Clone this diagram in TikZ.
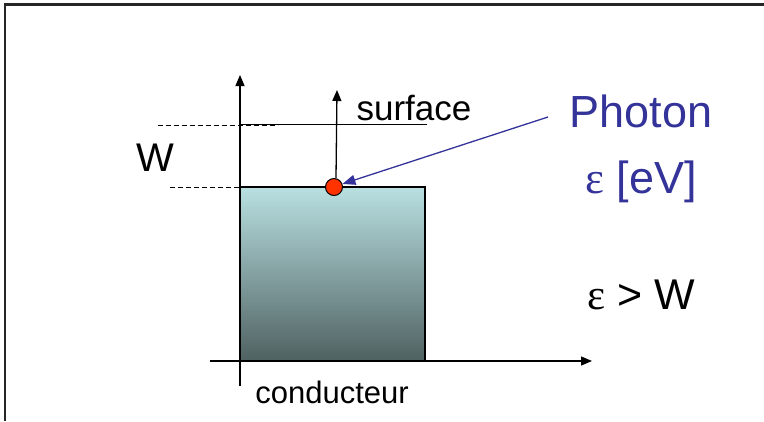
\documentclass[tikz,border=0pt]{standalone}
\usepackage{fontspec}
\setmainfont{Liberation Sans}
\newfontfamily\serifeps{Liberation Serif}
\usetikzlibrary{arrows.meta}
\definecolor{topc}{HTML}{B9E0E1}
\definecolor{botc}{HTML}{4F6161}
\definecolor{photonc}{HTML}{333399}
\definecolor{dotc}{HTML}{FF3300}
\tikzset{
  axis/.style={line width=1.3pt,-{Triangle[length=11pt,width=9pt]}},
  dline/.style={line width=1pt,dash pattern=on 5pt off 3pt},
  lbl/.style={inner sep=0pt,anchor=base},
}
\begin{document}
\begin{tikzpicture}[x=1pt,y=-1pt]
\useasboundingbox (0,0) rectangle (764,421);
\fill[white] (0,0) rectangle (764,421);
% frame (top and left only)
\draw[line width=2.2pt,black!85] (5,421) -- (5,4.5) -- (764,4.5);
% conductor block
\shade[top color=topc,bottom color=botc] (240,187) rectangle (425,361);
\draw[line width=1.2pt] (240,361) -- (240,187) -- (425,187) -- (425,361);
% axes
\coordinate (xs) at (210,361);
\coordinate (xe) at (592,361);
\coordinate (ys) at (240,386);
\coordinate (ye) at (240,75);
\draw[axis] (xs) -- (xe);
\draw[axis] (ys) -- (ye);
% levels
\coordinate (wl1) at (158,125);
\coordinate (wl2) at (278,125);
\coordinate (fl1) at (170,187);
\coordinate (fl2) at (286,187);
\draw[dline] (wl1) -- (wl2);
\draw[dline] (fl1) -- (fl2);
\coordinate (s1) at (240,124.5);
\coordinate (s2) at (427,124.5);
\draw[line width=1.2pt] (s1) -- (s2);
% electron
\node[circle,draw,line width=1pt,fill=dotc,minimum size=17pt,inner sep=0pt] (el) at (334,187) {};
\coordinate (up) at (337,90);
\draw[axis] (el.north) ++(2,0) -- (up);
% photon arrow
\coordinate (ph0) at (548,117);
\draw[photonc,line width=1.3pt,-{Triangle[length=13pt,width=10pt]}] (ph0) -- (el.20);
% texts
\node[lbl,font=\fontsize{35}{35}\selectfont] (surf) at (414,120) {surface};
\node[lbl,font=\fontsize{40}{40}\selectfont] (W) at (155,171) {W};
\node[lbl,font=\fontsize{45}{45}\selectfont,text=photonc] (photon) at (641,127) {Photon};
\node[lbl,font=\fontsize{45}{45}\selectfont,text=photonc] (ev) at (641,193) {{\serifeps ε} [eV]};
\node[lbl,font=\fontsize{43}{43}\selectfont] (cond) at (641,309) {{\serifeps ε} > W};
\node[lbl,font=\fontsize{31}{31}\selectfont] (cd) at (332,403) {conducteur};
\end{tikzpicture}
\end{document}
